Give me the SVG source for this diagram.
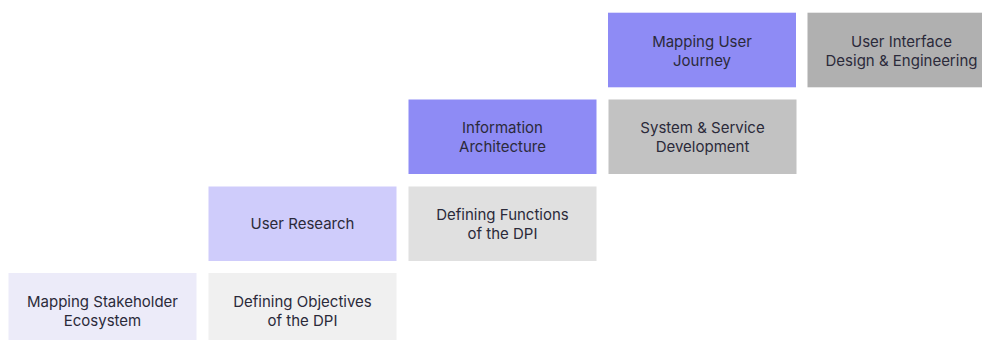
<svg xmlns="http://www.w3.org/2000/svg" width="982" height="340" viewBox="0 0 982 340">
<style>
text{font-family:Inter,"Noto Sans","Liberation Sans",sans-serif;font-size:15px;fill:#2b2a3a;text-anchor:middle}
.b{width:188px;height:74.7px}
</style>
<rect width="982" height="340" fill="#ffffff"/>
<g id="n1"><rect x="8.5" y="273" width="188" height="75" fill="#ecebf9"/><text x="102.5" y="306.5">Mapping Stakeholder</text><text x="102.5" y="325.5">Ecosystem</text></g>
<g id="n2"><rect x="208.5" y="273" width="188" height="75" fill="#f0f0f0"/><text x="302.5" y="306.5">Defining Objectives</text><text x="302.5" y="325.5">of the DPI</text></g>
<g id="n3"><rect x="208.5" y="186.5" width="188" height="74.5" fill="#cfccfb"/><text x="302.5" y="229">User Research</text></g>
<g id="n4"><rect x="408.5" y="186.5" width="188" height="74.5" fill="#e0e0e0"/><text x="502.5" y="220">Defining Functions</text><text x="502.5" y="239">of the DPI</text></g>
<g id="n5"><rect x="408.5" y="99.5" width="188" height="74.5" fill="#8e8bf5"/><text x="502.5" y="133">Information</text><text x="502.5" y="152">Architecture</text></g>
<g id="n6"><rect x="608.5" y="99.5" width="188" height="74.5" fill="#c2c2c2"/><text x="702.5" y="133">System &amp; Service</text><text x="702.5" y="152">Development</text></g>
<g id="n7"><rect x="608" y="12.7" width="188" height="74.6" fill="#8e8bf5"/><text x="702" y="46.5">Mapping User</text><text x="702" y="65.5">Journey</text></g>
<g id="n8"><rect x="807.5" y="12.7" width="188" height="74.6" fill="#b0b0b0"/><text x="901.5" y="46.5">User Interface</text><text x="901.5" y="65.5">Design &amp; Engineering</text></g>
<g id="connectors"></g>
</svg>
